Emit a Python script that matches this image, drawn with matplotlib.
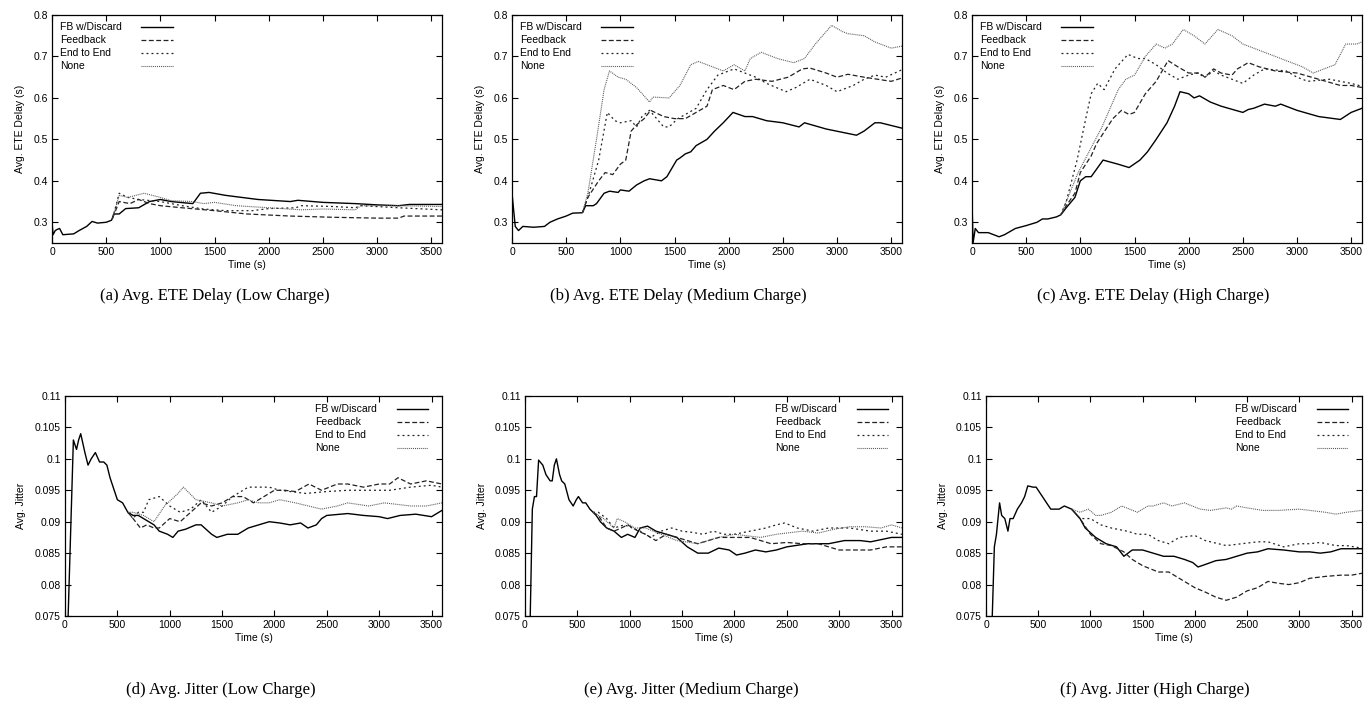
import matplotlib
matplotlib.use("Agg")
import matplotlib.pyplot as plt
from matplotlib.ticker import FuncFormatter

plt.rcParams['font.family'] = ['Liberation Sans', 'DejaVu Sans']
plt.rcParams['lines.scale_dashes'] = False

# ---- data ----
series_names = ["FB w/Discard", "Feedback", "End to End", "None"]

# (a) ETE delay, low charge
a_fb_t = [0, 10, 30, 50, 70, 100, 200, 250, 320, 370, 420, 500, 550, 570, 620, 680, 800, 900, 1000,
          1100, 1300, 1370, 1450, 1600, 1900, 2200, 2270, 2500, 2800, 3000, 3200, 3300, 3600]
a_fb_v = [0.30, 0.27, 0.28, 0.283, 0.285, 0.27, 0.272, 0.28, 0.29, 0.302, 0.298, 0.30, 0.305, 0.32, 0.32,
          0.333, 0.335, 0.35, 0.355, 0.35, 0.345, 0.37, 0.372, 0.365, 0.355, 0.35, 0.353, 0.348, 0.345,
          0.342, 0.34, 0.343, 0.343]
a_fe_t = [560, 620, 720, 800, 900, 1000, 1200, 1500, 1800, 2200, 2600, 3000, 3200, 3250, 3600]
a_fe_v = [0.31, 0.35, 0.345, 0.355, 0.345, 0.34, 0.335, 0.328, 0.32, 0.315, 0.312, 0.31, 0.31, 0.315, 0.315]
a_ee_t = [560, 620, 700, 800, 1000, 1200, 1400, 1600, 1850, 2000, 2250, 2300, 2600, 2800, 2850, 3200, 3600]
a_ee_v = [0.31, 0.37, 0.36, 0.355, 0.35, 0.34, 0.332, 0.328, 0.328, 0.333, 0.335, 0.34, 0.338, 0.335,
          0.34, 0.335, 0.33]
a_no_t = [560, 620, 700, 850, 1000, 1100, 1300, 1400, 1500, 1700, 2000, 2300, 2500, 2800, 2850, 3200, 3600]
a_no_v = [0.31, 0.365, 0.36, 0.37, 0.36, 0.352, 0.35, 0.345, 0.348, 0.34, 0.335, 0.33, 0.332, 0.33,
          0.34, 0.34, 0.338]

# (b) ETE delay, medium charge
b_fb_t = [0, 30, 60, 100, 200, 300, 350, 420, 500, 560, 650, 680, 750, 780, 850, 900, 980, 1000, 1080,
          1150, 1220, 1270, 1380, 1430, 1520, 1550, 1600, 1650, 1700, 1800, 1870, 1950, 2040, 2150, 2220,
          2350, 2500, 2650, 2700, 2900, 3180, 3250, 3350, 3400, 3600]
b_fb_v = [0.37, 0.29, 0.28, 0.29, 0.288, 0.29, 0.30, 0.308, 0.315, 0.322, 0.323, 0.34, 0.34, 0.345, 0.37,
          0.375, 0.372, 0.378, 0.375, 0.39, 0.40, 0.405, 0.40, 0.41, 0.45, 0.455, 0.465, 0.47, 0.485, 0.50,
          0.52, 0.54, 0.565, 0.555, 0.555, 0.545, 0.54, 0.53, 0.54, 0.525, 0.51, 0.52, 0.54, 0.54, 0.527]
b_fe_t = [650, 700, 800, 860, 930, 1000, 1050, 1100, 1150, 1220, 1280, 1400, 1500, 1600, 1700, 1800, 1850,
          1950, 2050, 2150, 2250, 2400, 2550, 2680, 2750, 2900, 3000, 3100, 3250, 3500, 3600]
b_fe_v = [0.323, 0.36, 0.40, 0.42, 0.415, 0.44, 0.45, 0.52, 0.535, 0.55, 0.57, 0.555, 0.55, 0.55, 0.565,
          0.58, 0.62, 0.63, 0.62, 0.64, 0.645, 0.64, 0.65, 0.67, 0.672, 0.66, 0.65, 0.657, 0.65, 0.64, 0.648]
b_ee_t = [650, 700, 800, 880, 950, 1000, 1100, 1150, 1200, 1270, 1400, 1450, 1530, 1600, 1700, 1800, 1900,
          2000, 2050, 2150, 2250, 2350, 2530, 2620, 2750, 2900, 3000, 3150, 3250, 3350, 3450, 3600]
b_ee_v = [0.323, 0.36, 0.45, 0.565, 0.545, 0.54, 0.545, 0.53, 0.555, 0.57, 0.53, 0.53, 0.55, 0.56, 0.575,
          0.62, 0.655, 0.665, 0.67, 0.66, 0.65, 0.635, 0.615, 0.625, 0.645, 0.63, 0.615, 0.63, 0.645, 0.655,
          0.65, 0.668]
b_no_t = [650, 700, 780, 850, 900, 980, 1050, 1150, 1270, 1300, 1450, 1550, 1650, 1720, 1850, 1950, 2050,
          2150, 2200, 2300, 2450, 2600, 2700, 2800, 2950, 3050, 3100, 3250, 3350, 3500, 3600]
b_no_v = [0.323, 0.37, 0.50, 0.62, 0.665, 0.65, 0.645, 0.625, 0.59, 0.602, 0.60, 0.63, 0.68, 0.688, 0.675,
          0.665, 0.68, 0.665, 0.695, 0.71, 0.695, 0.685, 0.695, 0.73, 0.775, 0.76, 0.755, 0.75, 0.735,
          0.72, 0.725]

# (c) ETE delay, high charge
c_fb_t = [0, 10, 30, 60, 150, 250, 300, 400, 500, 600, 650, 700, 780, 820, 870, 950, 1000, 1050, 1100,
          1210, 1350, 1450, 1550, 1620, 1700, 1800, 1870, 1920, 2000, 2050, 2100, 2200, 2300, 2500, 2550,
          2600, 2700, 2800, 2850, 3000, 3200, 3400, 3500, 3600]
c_fb_v = [0.35, 0.25, 0.285, 0.275, 0.275, 0.265, 0.27, 0.285, 0.292, 0.30, 0.308, 0.308, 0.313, 0.318,
          0.335, 0.36, 0.40, 0.41, 0.41, 0.45, 0.44, 0.432, 0.45, 0.47, 0.50, 0.54, 0.58, 0.615, 0.61, 0.60,
          0.605, 0.59, 0.58, 0.565, 0.572, 0.575, 0.585, 0.58, 0.585, 0.57, 0.555, 0.548, 0.565, 0.575]
c_fe_t = [820, 870, 950, 1000, 1100, 1150, 1200, 1300, 1380, 1450, 1500, 1600, 1700, 1810, 1900, 2000,
          2100, 2150, 2230, 2300, 2400, 2450, 2550, 2650, 2800, 3000, 3200, 3400, 3500, 3600]
c_fe_v = [0.318, 0.34, 0.37, 0.42, 0.46, 0.49, 0.51, 0.55, 0.57, 0.56, 0.565, 0.61, 0.64, 0.69, 0.675,
          0.66, 0.66, 0.65, 0.67, 0.66, 0.655, 0.67, 0.685, 0.675, 0.665, 0.66, 0.645, 0.63, 0.63, 0.625]
c_ee_t = [820, 870, 970, 1050, 1100, 1160, 1220, 1320, 1440, 1530, 1600, 1700, 1800, 1900, 2000, 2080,
          2150, 2230, 2300, 2400, 2500, 2600, 2700, 2900, 3000, 3100, 3300, 3500, 3600]
c_ee_v = [0.318, 0.35, 0.45, 0.55, 0.61, 0.635, 0.62, 0.67, 0.705, 0.695, 0.695, 0.68, 0.66, 0.645, 0.655,
          0.66, 0.65, 0.665, 0.655, 0.645, 0.635, 0.655, 0.67, 0.665, 0.65, 0.64, 0.645, 0.635, 0.628]
c_no_t = [820, 870, 980, 1100, 1200, 1300, 1350, 1420, 1500, 1600, 1700, 1780, 1850, 1950, 2050, 2150,
          2270, 2400, 2500, 2600, 2750, 2900, 3050, 3150, 3250, 3350, 3400, 3450, 3550, 3600]
c_no_v = [0.318, 0.35, 0.42, 0.48, 0.53, 0.59, 0.62, 0.645, 0.655, 0.70, 0.73, 0.72, 0.73, 0.765, 0.75,
          0.73, 0.765, 0.75, 0.73, 0.72, 0.705, 0.69, 0.675, 0.66, 0.67, 0.68, 0.705, 0.73, 0.73, 0.735]

# (d) jitter, low charge
d_fb_t = [0, 30, 80, 110, 130, 150, 190, 220, 250, 290, 330, 370, 400, 430, 460, 500, 550, 600, 650, 700,
          750, 850, 900, 980, 1030, 1080, 1150, 1250, 1300, 1400, 1450, 1550, 1650, 1750, 1850, 1950, 2050,
          2150, 2250, 2320, 2400, 2450, 2500, 2700, 2850, 3000, 3080, 3200, 3350, 3500, 3600]
d_fb_v = [0.070, 0.075, 0.103, 0.1015, 0.103, 0.104, 0.101, 0.099, 0.100, 0.101, 0.0995, 0.0995, 0.099,
          0.097, 0.0955, 0.0935, 0.093, 0.0915, 0.091, 0.091, 0.0905, 0.0895, 0.0885, 0.088, 0.0875, 0.0885,
          0.0888, 0.0895, 0.0895, 0.088, 0.0875, 0.088, 0.088, 0.089, 0.0895, 0.090, 0.0898, 0.0895, 0.0898,
          0.089, 0.0895, 0.0905, 0.091, 0.0913, 0.091, 0.0908, 0.0905, 0.091, 0.0912, 0.0908, 0.0918]
d_fe_t = [600, 650, 720, 780, 850, 900, 1000, 1100, 1200, 1300, 1400, 1500, 1600, 1700, 1800, 1900, 2000,
          2100, 2200, 2330, 2450, 2600, 2700, 2850, 3000, 3100, 3180, 3300, 3450, 3600]
d_fe_v = [0.0915, 0.0905, 0.089, 0.0895, 0.089, 0.089, 0.0905, 0.090, 0.0915, 0.093, 0.0925, 0.093, 0.094,
          0.094, 0.093, 0.094, 0.095, 0.095, 0.0948, 0.096, 0.095, 0.096, 0.096, 0.0955, 0.096, 0.096, 0.097,
          0.096, 0.0965, 0.096]
d_ee_t = [600, 650, 700, 750, 800, 900, 1000, 1100, 1200, 1300, 1400, 1500, 1600, 1750, 1950, 2050, 2300,
          2500, 2700, 2900, 3100, 3300, 3500, 3600]
d_ee_v = [0.0915, 0.0905, 0.0915, 0.0915, 0.0935, 0.094, 0.0925, 0.0915, 0.092, 0.0935, 0.0915, 0.0925,
          0.094, 0.0955, 0.0955, 0.095, 0.0945, 0.0948, 0.095, 0.095, 0.095, 0.0955, 0.0958, 0.0955]
d_no_t = [600, 650, 750, 850, 950, 1080, 1130, 1250, 1400, 1500, 1650, 1750, 1850, 1950, 2050, 2200, 2450,
          2600, 2700, 2900, 3050, 3300, 3450, 3600]
d_no_v = [0.0915, 0.0915, 0.091, 0.090, 0.0925, 0.0945, 0.0955, 0.0935, 0.093, 0.0925, 0.093, 0.0935,
          0.093, 0.093, 0.0935, 0.093, 0.092, 0.0925, 0.093, 0.0925, 0.093, 0.0925, 0.0925, 0.093]

# (e) jitter, medium charge
e_fb_t = [50, 70, 90, 110, 130, 170, 200, 240, 260, 280, 300, 330, 350, 380, 420, 460, 490, 510, 550, 580,
          620, 680, 720, 780, 850, 920, 980, 1050, 1100, 1170, 1250, 1350, 1450, 1550, 1650, 1750, 1850,
          1950, 2020, 2100, 2200, 2300, 2400, 2500, 2700, 2900, 3050, 3200, 3300, 3500, 3600]
e_fb_v = [0.075, 0.092, 0.094, 0.094, 0.0998, 0.099, 0.0975, 0.0965, 0.0965, 0.099, 0.100, 0.0975, 0.0965,
          0.096, 0.0935, 0.0925, 0.0935, 0.094, 0.093, 0.093, 0.092, 0.091, 0.090, 0.089, 0.0885, 0.0875,
          0.088, 0.0875, 0.089, 0.0893, 0.0885, 0.088, 0.0875, 0.086, 0.085, 0.085, 0.0858, 0.0855, 0.0847,
          0.085, 0.0855, 0.0852, 0.0855, 0.086, 0.0865, 0.0865, 0.087, 0.087, 0.0868, 0.0875, 0.0875]
e_fe_t = [650, 700, 780, 850, 920, 980, 1080, 1150, 1250, 1350, 1450, 1550, 1650, 1750, 1850, 2000, 2150,
          2250, 2350, 2500, 2650, 2800, 2900, 3000, 3150, 3300, 3450, 3600]
e_fe_v = [0.0915, 0.091, 0.089, 0.0885, 0.089, 0.0895, 0.0885, 0.088, 0.087, 0.088, 0.0875, 0.087, 0.0865,
          0.087, 0.0875, 0.0875, 0.0875, 0.087, 0.0865, 0.0867, 0.0865, 0.0865, 0.086, 0.0855, 0.0855,
          0.0855, 0.086, 0.086]
e_ee_t = [650, 700, 780, 850, 950, 1100, 1200, 1300, 1400, 1500, 1600, 1700, 1800, 1900, 2000, 2150, 2300,
          2400, 2480, 2600, 2750, 2900, 3100, 3300, 3450, 3600]
e_ee_v = [0.0915, 0.0915, 0.0905, 0.089, 0.0895, 0.0885, 0.0875, 0.0885, 0.089, 0.0885, 0.0883, 0.088,
          0.0885, 0.088, 0.088, 0.0885, 0.089, 0.0895, 0.0898, 0.089, 0.0885, 0.089, 0.089, 0.0885, 0.0885,
          0.088]
e_no_t = [650, 750, 850, 880, 950, 1050, 1150, 1300, 1450, 1650, 1750, 1850, 2000, 2100, 2250, 2400, 2500,
          2650, 2800, 2950, 3100, 3250, 3400, 3500, 3600]
e_no_v = [0.0915, 0.0905, 0.089, 0.0905, 0.090, 0.089, 0.089, 0.088, 0.087, 0.0865, 0.087, 0.0875, 0.088,
          0.0878, 0.0875, 0.088, 0.0882, 0.0885, 0.0882, 0.0888, 0.0892, 0.0892, 0.089, 0.0895, 0.089]

# (f) jitter, high charge
f_fb_t = [60, 80, 100, 130, 150, 180, 210, 230, 260, 300, 340, 370, 400, 450, 480, 520, 560, 620, 700,
          750, 820, 900, 950, 1050, 1150, 1250, 1320, 1400, 1500, 1600, 1700, 1800, 1900, 1980, 2030, 2100,
          2200, 2300, 2400, 2500, 2600, 2700, 2850, 3000, 3100, 3200, 3300, 3400, 3600]
f_fb_v = [0.075, 0.086, 0.088, 0.093, 0.091, 0.0905, 0.0885, 0.0905, 0.0905, 0.092, 0.093, 0.094, 0.0957,
          0.0955, 0.0955, 0.0945, 0.0935, 0.092, 0.092, 0.0925, 0.092, 0.0905, 0.089, 0.0875, 0.0865, 0.086,
          0.0845, 0.0855, 0.0855, 0.085, 0.0845, 0.0845, 0.084, 0.0835, 0.0828, 0.0832, 0.0838, 0.084,
          0.0845, 0.085, 0.0852, 0.0857, 0.0855, 0.0852, 0.0852, 0.085, 0.0852, 0.0857, 0.0857]
f_fe_t = [820, 900, 1000, 1100, 1200, 1320, 1400, 1500, 1650, 1750, 1900, 2000, 2100, 2200, 2300, 2400,
          2500, 2600, 2700, 2800, 2900, 3000, 3100, 3250, 3400, 3500, 3600]
f_fe_v = [0.092, 0.0905, 0.088, 0.0865, 0.0862, 0.0852, 0.084, 0.083, 0.082, 0.082, 0.0805, 0.0795,
          0.0788, 0.078, 0.0775, 0.078, 0.079, 0.0795, 0.0805, 0.0802, 0.080, 0.0803, 0.081, 0.0813,
          0.0815, 0.0815, 0.0818]
f_ee_t = [820, 900, 1000, 1100, 1200, 1350, 1450, 1550, 1650, 1750, 1850, 2000, 2100, 2300, 2450, 2600,
          2700, 2850, 3000, 3100, 3200, 3350, 3450, 3600]
f_ee_v = [0.092, 0.0905, 0.0905, 0.0895, 0.089, 0.0885, 0.088, 0.088, 0.087, 0.0865, 0.0875, 0.0878,
          0.087, 0.0862, 0.0865, 0.0868, 0.0868, 0.086, 0.0865, 0.0865, 0.0867, 0.0862, 0.0862, 0.0858]
f_no_t = [820, 900, 980, 1050, 1100, 1200, 1300, 1450, 1550, 1600, 1700, 1780, 1900, 2050, 2150, 2300,
          2350, 2400, 2500, 2650, 2800, 3000, 3100, 3250, 3350, 3450, 3600]
f_no_v = [0.092, 0.0915, 0.092, 0.091, 0.091, 0.0915, 0.0925, 0.0915, 0.0925, 0.0925, 0.093, 0.0925,
          0.093, 0.092, 0.0918, 0.0922, 0.092, 0.0925, 0.0922, 0.0918, 0.0918, 0.092, 0.0918, 0.0915,
          0.0912, 0.0915, 0.0918]

captions = ["(a) Avg. ETE Delay (Low Charge)", "(b) Avg. ETE Delay (Medium Charge)",
            "(c) Avg. ETE Delay (High Charge)", "(d) Avg. Jitter (Low Charge)",
            "(e) Avg. Jitter (Medium Charge)", "(f) Avg. Jitter (High Charge)"]

panels = [
    [(a_fb_t, a_fb_v), (a_fe_t, a_fe_v), (a_ee_t, a_ee_v), (a_no_t, a_no_v)],
    [(b_fb_t, b_fb_v), (b_fe_t, b_fe_v), (b_ee_t, b_ee_v), (b_no_t, b_no_v)],
    [(c_fb_t, c_fb_v), (c_fe_t, c_fe_v), (c_ee_t, c_ee_v), (c_no_t, c_no_v)],
    [(d_fb_t, d_fb_v), (d_fe_t, d_fe_v), (d_ee_t, d_ee_v), (d_no_t, d_no_v)],
    [(e_fb_t, e_fb_v), (e_fe_t, e_fe_v), (e_ee_t, e_ee_v), (e_no_t, e_no_v)],
    [(f_fb_t, f_fb_v), (f_fe_t, f_fe_v), (f_ee_t, f_ee_v), (f_no_t, f_no_v)],
]

# line styles (gnuplot-like)
styles = [
    dict(color='black', lw=1.0, linestyle='-'),
    dict(color='#222222', lw=0.9, linestyle=(0, (3.5, 1.8))),
    dict(color='#222222', lw=0.9, linestyle=(0, (1.4, 2.2))),
    dict(color='#555555', lw=0.8, linestyle=(0, (0.7, 0.7))),
]

# ---- layout (pixels of 1369x712 figure) ----
W, H = 1369, 712
boxes = [(52, 15, 442, 243), (512, 15, 902, 243), (972, 15, 1362, 243),
         (65, 396, 442, 616), (525, 396, 902, 616), (986, 396, 1362, 616)]
cap_x = [215, 678, 1153, 221, 691, 1155]
cap_y = [296, 296, 296, 690, 690, 690]

fig = plt.figure(figsize=(W / 100, H / 100), dpi=100)

for i, (box, series) in enumerate(zip(boxes, panels)):
    x0, y0, x1, y1 = box
    ax = fig.add_axes([x0 / W, 1 - y1 / H, (x1 - x0) / W, (y1 - y0) / H])
    for (t, v), st in zip(series, styles):
        ax.plot(t, v, **st)

    ax.set_xlim(0, 3600)
    ax.set_xticks(range(0, 3501, 500))
    if i < 3:
        ax.set_ylim(0.25, 0.8)
        ax.set_yticks([0.3, 0.4, 0.5, 0.6, 0.7, 0.8])
        ax.set_ylabel("Avg. ETE Delay (s)", fontsize=7.5, labelpad=6)
    else:
        ax.set_ylim(0.075, 0.11)
        ax.set_yticks([0.075, 0.08, 0.085, 0.09, 0.095, 0.1, 0.105, 0.11])
        ax.set_ylabel("Avg. Jitter", fontsize=7.5, labelpad=6)
    ax.yaxis.set_major_formatter(FuncFormatter(lambda y, p: "%g" % round(y, 4)))
    ax.set_xlabel("Time (s)", fontsize=7.5, labelpad=2)
    ax.tick_params(direction='in', top=True, right=True, length=4, width=0.8,
                   labelsize=7.5, pad=3)
    for s in ax.spines.values():
        s.set_linewidth(0.9)

    # gnuplot-style key: text left, sample line at right
    if i < 3:
        tx, hx0, hx1 = 0.021, 0.228, 0.31
        rows = [0.947, 0.890, 0.833, 0.776]
    else:
        tx, hx0, hx1 = 0.663, 0.88, 0.963
        rows = [0.941, 0.882, 0.823, 0.764]
    for name, st, ry in zip(series_names, styles, rows):
        ax.text(tx, ry, name, transform=ax.transAxes, fontsize=7.5, va='center', ha='left')
        ax.plot([hx0, hx1], [ry, ry], transform=ax.transAxes, **st)

    fig.text(cap_x[i] / W, 1 - cap_y[i] / H, captions[i], ha='center', va='center',
             fontsize=12, family=['Liberation Serif', 'DejaVu Serif'])

fig.savefig("out.png", dpi=100)
